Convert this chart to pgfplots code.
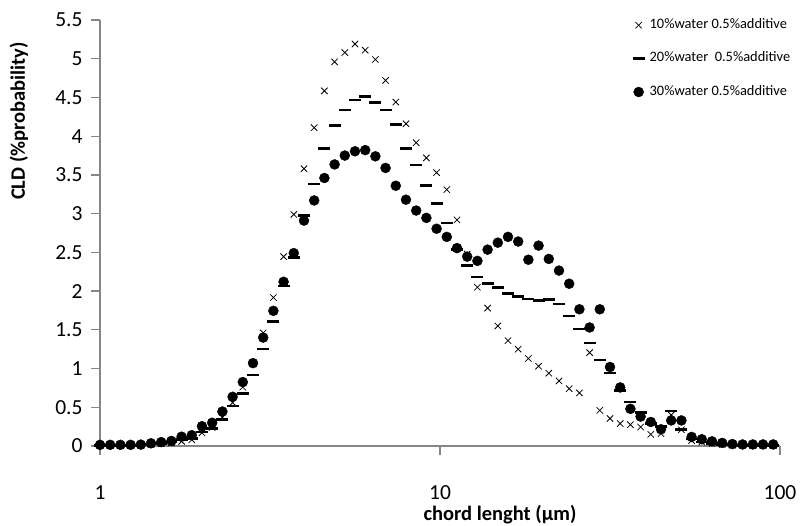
\documentclass[border=0pt]{standalone}
\usepackage{fontspec}
\setmainfont{Carlito}
\usepackage{pgfplots}
\pgfplotsset{compat=1.18}
\usepackage{pgfplotstable}
\definecolor{axisgray}{RGB}{134,134,134}

\pgfplotstableread{
x a b c
1.0000 0.005 0.01 0.015
1.0715 0.005 0.01 0.015
1.1482 0.005 0.01 0.015
1.2303 0.005 0.01 0.015
1.3183 0.008 0.012 0.018
1.4125 0.02 0.025 0.035
1.5136 0.03 0.035 0.05
1.6218 0.04 0.05 0.065
1.7378 0.06 0.08 0.12
1.8621 0.08 0.10 0.14
1.9953 0.17 0.18 0.255
2.1380 0.24 0.225 0.30
2.2909 0.37 0.345 0.445
2.4547 0.56 0.514 0.635
2.6303 0.76 0.68 0.825
2.8184 1.06 0.916 1.07
3.0200 1.46 1.25 1.40
3.2359 1.917 1.606 1.745
3.4674 2.445 2.065 2.12
3.7154 2.99 2.435 2.49
3.9811 3.58 2.975 2.91
4.2658 4.11 3.385 3.17
4.5709 4.585 3.84 3.46
4.8978 4.96 4.14 3.635
5.2481 5.08 4.34 3.75
5.6234 5.19 4.465 3.805
6.0256 5.11 4.51 3.82
6.4565 4.99 4.435 3.74
6.9183 4.72 4.34 3.59
7.4131 4.44 4.154 3.36
7.9433 4.16 3.84 3.18
8.5114 3.916 3.63 3.04
9.1201 3.72 3.36 2.945
9.7724 3.53 3.13 2.805
10.471 3.31 2.88 2.70
11.220 2.92 2.54 2.555
12.023 2.48 2.33 2.445
12.882 2.05 2.18 2.39
13.804 1.78 2.10 2.535
14.791 1.55 2.05 2.625
15.849 1.36 1.97 2.70
16.982 1.25 1.93 2.64
18.197 1.13 1.90 2.405
19.498 1.03 1.88 2.587
20.893 0.94 1.895 2.415
22.387 0.84 1.835 2.265
23.988 0.74 1.68 2.095
25.704 0.685 1.51 1.765
27.542 1.205 1.33 1.53
29.512 0.46 1.11 1.765
31.623 0.355 0.94 1.02
33.884 0.29 0.72 0.756
36.308 0.275 0.57 0.48
38.905 0.245 0.43 0.38
41.687 0.15 0.29 0.31
44.668 0.16 0.25 0.216
47.863 0.40 0.45 0.33
51.286 0.21 0.21 0.33
54.954 0.07 0.09 0.117
58.884 0.05 0.05 0.087
63.096 0.03 0.03 0.06
67.608 0.02 0.02 0.04
72.444 0.01 0.015 0.025
77.625 0.01 0.01 0.02
83.176 0.005 0.01 0.02
89.125 0.005 0.01 0.02
95.499 0.005 0.01 0.02
}\cld

\begin{document}
\begin{tikzpicture}[x=1pt,y=1pt]
\path[use as bounding box] (0,0) rectangle (802,526);
\begin{axis}[
  at={(100pt,80pt)}, anchor=south west,
  scale only axis, width=680pt, height=426pt,
  xmode=log, log basis x=10,
  xmin=1, xmax=100, ymin=0, ymax=5.5,
  axis x line=bottom, axis y line=left,
  axis line style={-, draw=axisgray, line width=1.2pt},
  xtick={1,10,100}, xticklabels={1,10,100},
  minor xtick={},
  ytick={0,0.5,...,5.5},
  tick align=outside,
  major tick length=9pt,
  tick style={draw=axisgray, line width=1.2pt},
  /pgf/number format/assume math mode=true,
  tick label style={font=\fontsize{21.5}{25}\selectfont, text=black},
  xticklabel style={yshift=-27pt},
  yticklabel style={xshift=-5pt},
  clip=false,
  legend style={at={(0.783,1.014)}, anchor=north west, draw=none, fill=none,
    font=\fontsize{14.4}{17}\selectfont, row sep=11.4pt, inner sep=0pt,
    nodes={inner xsep=5pt, text height=12pt, text depth=6pt}},
  legend cell align=left,
]
\addplot[only marks, mark=x, mark size=4.5pt, line width=0.8pt, black] table[x=x,y=a] {\cld};
\addlegendentry{10\%water 0.5\%additive}
\addplot[only marks, mark=-, mark size=6pt, line width=2.6pt, black] table[x=x,y=b] {\cld};
\addlegendentry{20\%water\ \ 0.5\%additive}
\addplot[only marks, mark=*, mark size=5pt, black] table[x=x,y=c] {\cld};
\addlegendentry{30\%water 0.5\%additive}
\end{axis}
\node[font=\bfseries\fontsize{20.5}{24}\selectfont, anchor=center] at (500,11) {chord lenght (μm)};
\node[font=\bfseries\fontsize{20.5}{24}\selectfont, rotate=90, anchor=center] at (19,405) {CLD (\%probability)};
\end{tikzpicture}
\end{document}
